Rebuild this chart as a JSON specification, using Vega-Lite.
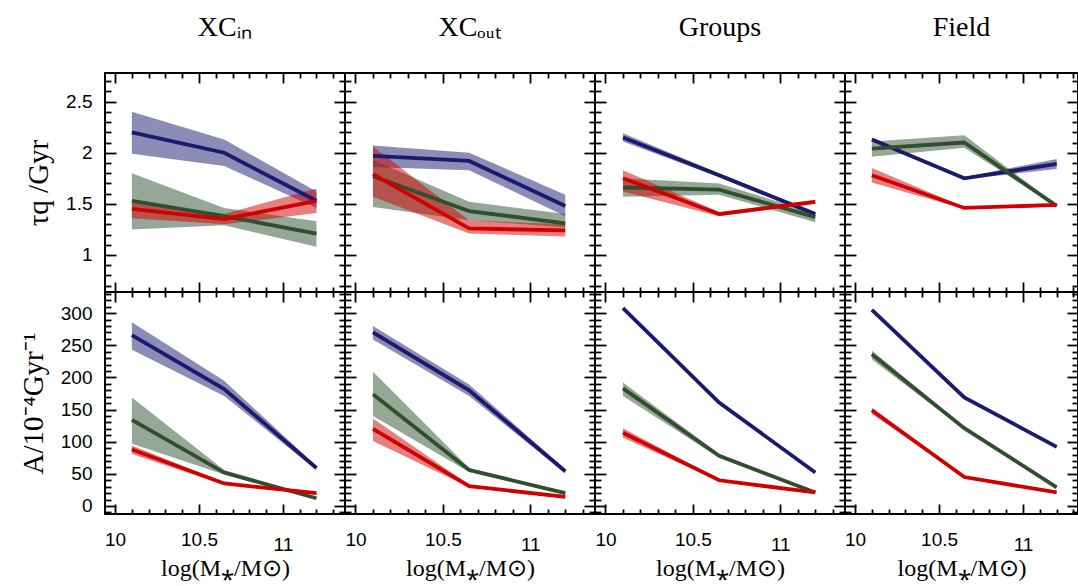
{
  "$schema": "https://vega.github.io/schema/vega-lite/v6.json",
  "background": "white",
  "padding": {"left": 18, "top": 13, "right": 0, "bottom": 0},
  "config": {
    "view": {"stroke": "black", "strokeWidth": 2},
    "title": {"font": "Liberation Serif", "fontSize": 28, "fontWeight": "normal", "color": "black", "offset": 30},
    "axis": {"domain": false, "grid": false, "tickColor": "black", "tickWidth": 1.8, "labelFont": "Liberation Sans", "labelFontSize": 19, "labelColor": "black", "labelFlush": false, "labelOverlap": false, "labelBound": false, "titleFont": "Liberation Serif", "titleFontWeight": "normal", "titleColor": "black"},
    "axisX": {"tickSize": -10, "labelPadding": 26, "titleFontSize": 24, "titlePadding": 2},
    "axisY": {"tickSize": -11, "labelPadding": 24, "titleFontSize": 29, "titlePadding": 12}
  },
  "data": {"values": [
    {"env":"XCin","m":"tau","s":"blue","x":10.1,"y":2.20,"lo":1.99,"hi":2.40},
    {"env":"XCin","m":"tau","s":"blue","x":10.65,"y":2.00,"lo":1.87,"hi":2.13},
    {"env":"XCin","m":"tau","s":"blue","x":11.2,"y":1.53,"lo":1.46,"hi":1.62},
    {"env":"XCin","m":"tau","s":"green","x":10.1,"y":1.53,"lo":1.25,"hi":1.80},
    {"env":"XCin","m":"tau","s":"green","x":10.65,"y":1.38,"lo":1.29,"hi":1.46},
    {"env":"XCin","m":"tau","s":"green","x":11.2,"y":1.21,"lo":1.08,"hi":1.33},
    {"env":"XCin","m":"tau","s":"red","x":10.1,"y":1.45,"lo":1.36,"hi":1.51},
    {"env":"XCin","m":"tau","s":"red","x":10.65,"y":1.35,"lo":1.30,"hi":1.40},
    {"env":"XCin","m":"tau","s":"red","x":11.2,"y":1.53,"lo":1.41,"hi":1.65},
    {"env":"XCout","m":"tau","s":"blue","x":10.1,"y":1.97,"lo":1.86,"hi":2.07},
    {"env":"XCout","m":"tau","s":"blue","x":10.65,"y":1.92,"lo":1.83,"hi":2.00},
    {"env":"XCout","m":"tau","s":"blue","x":11.2,"y":1.48,"lo":1.38,"hi":1.59},
    {"env":"XCout","m":"tau","s":"green","x":10.1,"y":1.77,"lo":1.47,"hi":1.93},
    {"env":"XCout","m":"tau","s":"green","x":10.65,"y":1.43,"lo":1.34,"hi":1.52},
    {"env":"XCout","m":"tau","s":"green","x":11.2,"y":1.31,"lo":1.27,"hi":1.40},
    {"env":"XCout","m":"tau","s":"red","x":10.1,"y":1.79,"lo":1.57,"hi":2.06},
    {"env":"XCout","m":"tau","s":"red","x":10.65,"y":1.26,"lo":1.21,"hi":1.34},
    {"env":"XCout","m":"tau","s":"red","x":11.2,"y":1.24,"lo":1.18,"hi":1.30},
    {"env":"Groups","m":"tau","s":"blue","x":10.1,"y":2.15,"lo":2.11,"hi":2.19},
    {"env":"Groups","m":"tau","s":"blue","x":10.65,"y":1.78,"lo":1.76,"hi":1.80},
    {"env":"Groups","m":"tau","s":"blue","x":11.2,"y":1.40,"lo":1.38,"hi":1.42},
    {"env":"Groups","m":"tau","s":"green","x":10.1,"y":1.66,"lo":1.57,"hi":1.75},
    {"env":"Groups","m":"tau","s":"green","x":10.65,"y":1.64,"lo":1.59,"hi":1.70},
    {"env":"Groups","m":"tau","s":"green","x":11.2,"y":1.37,"lo":1.32,"hi":1.41},
    {"env":"Groups","m":"tau","s":"red","x":10.1,"y":1.75,"lo":1.62,"hi":1.83},
    {"env":"Groups","m":"tau","s":"red","x":10.65,"y":1.40,"lo":1.38,"hi":1.42},
    {"env":"Groups","m":"tau","s":"red","x":11.2,"y":1.52,"lo":1.50,"hi":1.54},
    {"env":"Field","m":"tau","s":"blue","x":10.1,"y":2.13,"lo":2.11,"hi":2.15},
    {"env":"Field","m":"tau","s":"blue","x":10.65,"y":1.75,"lo":1.74,"hi":1.76},
    {"env":"Field","m":"tau","s":"blue","x":11.2,"y":1.89,"lo":1.84,"hi":1.94},
    {"env":"Field","m":"tau","s":"green","x":10.1,"y":2.04,"lo":1.96,"hi":2.11},
    {"env":"Field","m":"tau","s":"green","x":10.65,"y":2.10,"lo":2.05,"hi":2.17},
    {"env":"Field","m":"tau","s":"green","x":11.2,"y":1.48,"lo":1.47,"hi":1.49},
    {"env":"Field","m":"tau","s":"red","x":10.1,"y":1.78,"lo":1.71,"hi":1.85},
    {"env":"Field","m":"tau","s":"red","x":10.65,"y":1.46,"lo":1.45,"hi":1.47},
    {"env":"Field","m":"tau","s":"red","x":11.2,"y":1.49,"lo":1.48,"hi":1.50},
    {"env":"XCin","m":"A","s":"blue","x":10.1,"y":266,"lo":243,"hi":286},
    {"env":"XCin","m":"A","s":"blue","x":10.65,"y":182,"lo":171,"hi":195},
    {"env":"XCin","m":"A","s":"blue","x":11.2,"y":59,"lo":56,"hi":62},
    {"env":"XCin","m":"A","s":"green","x":10.1,"y":134,"lo":97,"hi":169},
    {"env":"XCin","m":"A","s":"green","x":10.65,"y":52,"lo":49,"hi":56},
    {"env":"XCin","m":"A","s":"green","x":11.2,"y":12,"lo":10,"hi":14},
    {"env":"XCin","m":"A","s":"red","x":10.1,"y":88,"lo":81,"hi":94},
    {"env":"XCin","m":"A","s":"red","x":10.65,"y":35,"lo":33,"hi":37},
    {"env":"XCin","m":"A","s":"red","x":11.2,"y":20,"lo":18,"hi":22},
    {"env":"XCout","m":"A","s":"blue","x":10.1,"y":270,"lo":259,"hi":280},
    {"env":"XCout","m":"A","s":"blue","x":10.65,"y":180,"lo":171,"hi":189},
    {"env":"XCout","m":"A","s":"blue","x":11.2,"y":54,"lo":51,"hi":57},
    {"env":"XCout","m":"A","s":"green","x":10.1,"y":174,"lo":140,"hi":209},
    {"env":"XCout","m":"A","s":"green","x":10.65,"y":56,"lo":53,"hi":59},
    {"env":"XCout","m":"A","s":"green","x":11.2,"y":20,"lo":18,"hi":22},
    {"env":"XCout","m":"A","s":"red","x":10.1,"y":120,"lo":101,"hi":136},
    {"env":"XCout","m":"A","s":"red","x":10.65,"y":31,"lo":29,"hi":33},
    {"env":"XCout","m":"A","s":"red","x":11.2,"y":14,"lo":12,"hi":16},
    {"env":"Groups","m":"A","s":"blue","x":10.1,"y":308,"lo":307,"hi":309},
    {"env":"Groups","m":"A","s":"blue","x":10.65,"y":161,"lo":160,"hi":162},
    {"env":"Groups","m":"A","s":"blue","x":11.2,"y":52,"lo":51,"hi":53},
    {"env":"Groups","m":"A","s":"green","x":10.1,"y":183,"lo":171,"hi":192},
    {"env":"Groups","m":"A","s":"green","x":10.65,"y":78,"lo":75,"hi":81},
    {"env":"Groups","m":"A","s":"green","x":11.2,"y":21,"lo":20,"hi":22},
    {"env":"Groups","m":"A","s":"red","x":10.1,"y":114,"lo":106,"hi":121},
    {"env":"Groups","m":"A","s":"red","x":10.65,"y":40,"lo":39,"hi":41},
    {"env":"Groups","m":"A","s":"red","x":11.2,"y":21,"lo":20,"hi":22},
    {"env":"Field","m":"A","s":"blue","x":10.1,"y":305,"lo":304,"hi":306},
    {"env":"Field","m":"A","s":"blue","x":10.65,"y":169,"lo":168,"hi":170},
    {"env":"Field","m":"A","s":"blue","x":11.2,"y":92,"lo":91,"hi":93},
    {"env":"Field","m":"A","s":"green","x":10.1,"y":236,"lo":228,"hi":242},
    {"env":"Field","m":"A","s":"green","x":10.65,"y":121,"lo":119,"hi":123},
    {"env":"Field","m":"A","s":"green","x":11.2,"y":29,"lo":28,"hi":30},
    {"env":"Field","m":"A","s":"red","x":10.1,"y":149,"lo":143,"hi":153},
    {"env":"Field","m":"A","s":"red","x":10.65,"y":45,"lo":44,"hi":46},
    {"env":"Field","m":"A","s":"red","x":11.2,"y":21,"lo":20,"hi":22}
  ]},
  "columns": 4,
  "spacing": 0,
  "bounds": "flush",
  "concat": [
    {"width": 240, "height": 219, "title": "XCᵢₙ",
     "transform": [{"filter": "datum.env == 'XCin' && datum.m == 'tau'"}],
     "layer": [
      {"mark": {"type": "area", "opacity": 0.5},
       "encoding": {
        "x": {"field": "x", "type": "quantitative", "scale": {"domain": [9.94, 11.37], "nice": false, "zero": false}, "axis": {"orient": "bottom", "values": [10, 10.5, 11], "labels": false, "title": null}},
        "y": {"field": "lo", "type": "quantitative", "stack": null, "scale": {"domain": [0.638, 2.78], "nice": false, "zero": false}, "axis": {"orient": "left", "values": [1, 1.5, 2, 2.5], "format": "~g", "title": "τq /Gyr"}},
        "y2": {"field": "hi"},
        "color": {"field": "s", "type": "nominal", "scale": {"domain": ["blue", "green", "red"], "range": ["#1a1a6e", "#2f4f2f", "#d00000"]}, "legend": null}}},
      {"mark": {"type": "line", "strokeWidth": 3.8},
       "encoding": {
        "x": {"field": "x", "type": "quantitative", "axis": {"orient": "top", "values": [10, 10.5, 11], "labels": false, "title": null}},
        "y": {"field": "y", "type": "quantitative", "axis": {"orient": "right", "values": [1, 1.5, 2, 2.5], "labels": false, "title": null}},
        "color": {"field": "s", "type": "nominal", "legend": null}}},
      {"mark": {"type": "line", "opacity": 0},
       "encoding": {
        "x": {"field": "x", "type": "quantitative", "axis": {"orient": "bottom", "values": [10.1,10.2,10.3,10.4,10.6,10.7,10.8,10.9,11.1,11.2,11.3], "tickSize": -5, "labels": false, "title": null}},
        "y": {"field": "y", "type": "quantitative", "axis": {"orient": "left", "values": [0.7,0.8,0.9,1.1,1.2,1.3,1.4,1.6,1.7,1.8,1.9,2.1,2.2,2.3,2.4,2.6,2.7], "tickSize": -6, "labels": false, "title": null}},
        "detail": {"field": "s"}}},
      {"mark": {"type": "line", "opacity": 0},
       "encoding": {
        "x": {"field": "x", "type": "quantitative", "axis": {"orient": "top", "values": [10.1,10.2,10.3,10.4,10.6,10.7,10.8,10.9,11.1,11.2,11.3], "tickSize": -5, "labels": false, "title": null}},
        "y": {"field": "y", "type": "quantitative", "axis": {"orient": "right", "values": [0.7,0.8,0.9,1.1,1.2,1.3,1.4,1.6,1.7,1.8,1.9,2.1,2.2,2.3,2.4,2.6,2.7], "tickSize": -6, "labels": false, "title": null}},
        "detail": {"field": "s"}}}
     ],
     "resolve": {"axis": {"x": "independent", "y": "independent"}}},
    {"width": 250, "height": 219, "title": "XCₒᵤₜ",
     "transform": [{"filter": "datum.env == 'XCout' && datum.m == 'tau'"}],
     "layer": [
      {"mark": {"type": "area", "opacity": 0.5},
       "encoding": {
        "x": {"field": "x", "type": "quantitative", "scale": {"domain": [9.94, 11.37], "nice": false, "zero": false}, "axis": {"orient": "bottom", "values": [10, 10.5, 11], "labels": false, "title": null}},
        "y": {"field": "lo", "type": "quantitative", "stack": null, "scale": {"domain": [0.638, 2.78], "nice": false, "zero": false}, "axis": {"orient": "left", "values": [1, 1.5, 2, 2.5], "labels": false, "title": null}},
        "y2": {"field": "hi"},
        "color": {"field": "s", "type": "nominal", "scale": {"domain": ["blue", "green", "red"], "range": ["#1a1a6e", "#2f4f2f", "#d00000"]}, "legend": null}}},
      {"mark": {"type": "line", "strokeWidth": 3.8},
       "encoding": {
        "x": {"field": "x", "type": "quantitative", "axis": {"orient": "top", "values": [10, 10.5, 11], "labels": false, "title": null}},
        "y": {"field": "y", "type": "quantitative", "axis": {"orient": "right", "values": [1, 1.5, 2, 2.5], "labels": false, "title": null}},
        "color": {"field": "s", "type": "nominal", "legend": null}}},
      {"mark": {"type": "line", "opacity": 0},
       "encoding": {
        "x": {"field": "x", "type": "quantitative", "axis": {"orient": "bottom", "values": [10.1,10.2,10.3,10.4,10.6,10.7,10.8,10.9,11.1,11.2,11.3], "tickSize": -5, "labels": false, "title": null}},
        "y": {"field": "y", "type": "quantitative", "axis": {"orient": "left", "values": [0.7,0.8,0.9,1.1,1.2,1.3,1.4,1.6,1.7,1.8,1.9,2.1,2.2,2.3,2.4,2.6,2.7], "tickSize": -6, "labels": false, "title": null}},
        "detail": {"field": "s"}}},
      {"mark": {"type": "line", "opacity": 0},
       "encoding": {
        "x": {"field": "x", "type": "quantitative", "axis": {"orient": "top", "values": [10.1,10.2,10.3,10.4,10.6,10.7,10.8,10.9,11.1,11.2,11.3], "tickSize": -5, "labels": false, "title": null}},
        "y": {"field": "y", "type": "quantitative", "axis": {"orient": "right", "values": [0.7,0.8,0.9,1.1,1.2,1.3,1.4,1.6,1.7,1.8,1.9,2.1,2.2,2.3,2.4,2.6,2.7], "tickSize": -6, "labels": false, "title": null}},
        "detail": {"field": "s"}}}
     ],
     "resolve": {"axis": {"x": "independent", "y": "independent"}}},
    {"width": 250, "height": 219, "title": "Groups",
     "transform": [{"filter": "datum.env == 'Groups' && datum.m == 'tau'"}],
     "layer": [
      {"mark": {"type": "area", "opacity": 0.5},
       "encoding": {
        "x": {"field": "x", "type": "quantitative", "scale": {"domain": [9.94, 11.37], "nice": false, "zero": false}, "axis": {"orient": "bottom", "values": [10, 10.5, 11], "labels": false, "title": null}},
        "y": {"field": "lo", "type": "quantitative", "stack": null, "scale": {"domain": [0.638, 2.78], "nice": false, "zero": false}, "axis": {"orient": "left", "values": [1, 1.5, 2, 2.5], "labels": false, "title": null}},
        "y2": {"field": "hi"},
        "color": {"field": "s", "type": "nominal", "scale": {"domain": ["blue", "green", "red"], "range": ["#1a1a6e", "#2f4f2f", "#d00000"]}, "legend": null}}},
      {"mark": {"type": "line", "strokeWidth": 3.8},
       "encoding": {
        "x": {"field": "x", "type": "quantitative", "axis": {"orient": "top", "values": [10, 10.5, 11], "labels": false, "title": null}},
        "y": {"field": "y", "type": "quantitative", "axis": {"orient": "right", "values": [1, 1.5, 2, 2.5], "labels": false, "title": null}},
        "color": {"field": "s", "type": "nominal", "legend": null}}},
      {"mark": {"type": "line", "opacity": 0},
       "encoding": {
        "x": {"field": "x", "type": "quantitative", "axis": {"orient": "bottom", "values": [10.1,10.2,10.3,10.4,10.6,10.7,10.8,10.9,11.1,11.2,11.3], "tickSize": -5, "labels": false, "title": null}},
        "y": {"field": "y", "type": "quantitative", "axis": {"orient": "left", "values": [0.7,0.8,0.9,1.1,1.2,1.3,1.4,1.6,1.7,1.8,1.9,2.1,2.2,2.3,2.4,2.6,2.7], "tickSize": -6, "labels": false, "title": null}},
        "detail": {"field": "s"}}},
      {"mark": {"type": "line", "opacity": 0},
       "encoding": {
        "x": {"field": "x", "type": "quantitative", "axis": {"orient": "top", "values": [10.1,10.2,10.3,10.4,10.6,10.7,10.8,10.9,11.1,11.2,11.3], "tickSize": -5, "labels": false, "title": null}},
        "y": {"field": "y", "type": "quantitative", "axis": {"orient": "right", "values": [0.7,0.8,0.9,1.1,1.2,1.3,1.4,1.6,1.7,1.8,1.9,2.1,2.2,2.3,2.4,2.6,2.7], "tickSize": -6, "labels": false, "title": null}},
        "detail": {"field": "s"}}}
     ],
     "resolve": {"axis": {"x": "independent", "y": "independent"}}},
    {"width": 233, "height": 219, "title": "Field",
     "transform": [{"filter": "datum.env == 'Field' && datum.m == 'tau'"}],
     "layer": [
      {"mark": {"type": "area", "opacity": 0.5},
       "encoding": {
        "x": {"field": "x", "type": "quantitative", "scale": {"domain": [9.94, 11.327], "nice": false, "zero": false}, "axis": {"orient": "bottom", "values": [10, 10.5, 11], "labels": false, "title": null}},
        "y": {"field": "lo", "type": "quantitative", "stack": null, "scale": {"domain": [0.638, 2.78], "nice": false, "zero": false}, "axis": {"orient": "left", "values": [1, 1.5, 2, 2.5], "labels": false, "title": null}},
        "y2": {"field": "hi"},
        "color": {"field": "s", "type": "nominal", "scale": {"domain": ["blue", "green", "red"], "range": ["#1a1a6e", "#2f4f2f", "#d00000"]}, "legend": null}}},
      {"mark": {"type": "line", "strokeWidth": 3.8},
       "encoding": {
        "x": {"field": "x", "type": "quantitative", "axis": {"orient": "top", "values": [10, 10.5, 11], "labels": false, "title": null}},
        "y": {"field": "y", "type": "quantitative", "axis": {"orient": "right", "values": [1, 1.5, 2, 2.5], "labels": false, "title": null}},
        "color": {"field": "s", "type": "nominal", "legend": null}}},
      {"mark": {"type": "line", "opacity": 0},
       "encoding": {
        "x": {"field": "x", "type": "quantitative", "axis": {"orient": "bottom", "values": [10.1,10.2,10.3,10.4,10.6,10.7,10.8,10.9,11.1,11.2,11.3], "tickSize": -5, "labels": false, "title": null}},
        "y": {"field": "y", "type": "quantitative", "axis": {"orient": "left", "values": [0.7,0.8,0.9,1.1,1.2,1.3,1.4,1.6,1.7,1.8,1.9,2.1,2.2,2.3,2.4,2.6,2.7], "tickSize": -6, "labels": false, "title": null}},
        "detail": {"field": "s"}}},
      {"mark": {"type": "line", "opacity": 0},
       "encoding": {
        "x": {"field": "x", "type": "quantitative", "axis": {"orient": "top", "values": [10.1,10.2,10.3,10.4,10.6,10.7,10.8,10.9,11.1,11.2,11.3], "tickSize": -5, "labels": false, "title": null}},
        "y": {"field": "y", "type": "quantitative", "axis": {"orient": "right", "values": [0.7,0.8,0.9,1.1,1.2,1.3,1.4,1.6,1.7,1.8,1.9,2.1,2.2,2.3,2.4,2.6,2.7], "tickSize": -6, "labels": false, "title": null}},
        "detail": {"field": "s"}}}
     ],
     "resolve": {"axis": {"x": "independent", "y": "independent"}}},
    {"width": 240, "height": 222,
     "transform": [{"filter": "datum.env == 'XCin' && datum.m == 'A'"}],
     "layer": [
      {"mark": {"type": "area", "opacity": 0.5},
       "encoding": {
        "x": {"field": "x", "type": "quantitative", "scale": {"domain": [9.94, 11.37], "nice": false, "zero": false}, "axis": {"orient": "bottom", "values": [10, 10.5, 11], "format": "~g", "labelPadding": {"condition": {"test": "datum.value == 11", "value": 31}, "value": 26}, "title": "log(M⁎/M⊙)"}},
        "y": {"field": "lo", "type": "quantitative", "stack": null, "scale": {"domain": [-12.5, 333], "nice": false, "zero": false}, "axis": {"orient": "left", "values": [0, 50, 100, 150, 200, 250, 300], "format": "d", "title": "A/10⁻⁴Gyr⁻¹"}},
        "y2": {"field": "hi"},
        "color": {"field": "s", "type": "nominal", "scale": {"domain": ["blue", "green", "red"], "range": ["#1a1a6e", "#2f4f2f", "#d00000"]}, "legend": null}}},
      {"mark": {"type": "line", "strokeWidth": 3.8},
       "encoding": {
        "x": {"field": "x", "type": "quantitative", "axis": {"orient": "top", "values": [10, 10.5, 11], "labels": false, "title": null}},
        "y": {"field": "y", "type": "quantitative", "axis": {"orient": "right", "values": [0, 50, 100, 150, 200, 250, 300], "labels": false, "title": null}},
        "color": {"field": "s", "type": "nominal", "legend": null}}},
      {"mark": {"type": "line", "opacity": 0},
       "encoding": {
        "x": {"field": "x", "type": "quantitative", "axis": {"orient": "bottom", "values": [10.1,10.2,10.3,10.4,10.6,10.7,10.8,10.9,11.1,11.2,11.3], "tickSize": -5, "labels": false, "title": null}},
        "y": {"field": "y", "type": "quantitative", "axis": {"orient": "left", "values": [-10,10,20,30,40,60,70,80,90,110,120,130,140,160,170,180,190,210,220,230,240,260,270,280,290,310,320,330], "tickSize": -6, "labels": false, "title": null}},
        "detail": {"field": "s"}}},
      {"mark": {"type": "line", "opacity": 0},
       "encoding": {
        "x": {"field": "x", "type": "quantitative", "axis": {"orient": "top", "values": [10.1,10.2,10.3,10.4,10.6,10.7,10.8,10.9,11.1,11.2,11.3], "tickSize": -5, "labels": false, "title": null}},
        "y": {"field": "y", "type": "quantitative", "axis": {"orient": "right", "values": [-10,10,20,30,40,60,70,80,90,110,120,130,140,160,170,180,190,210,220,230,240,260,270,280,290,310,320,330], "tickSize": -6, "labels": false, "title": null}},
        "detail": {"field": "s"}}}
     ],
     "resolve": {"axis": {"x": "independent", "y": "independent"}}},
    {"width": 250, "height": 222,
     "transform": [{"filter": "datum.env == 'XCout' && datum.m == 'A'"}],
     "layer": [
      {"mark": {"type": "area", "opacity": 0.5},
       "encoding": {
        "x": {"field": "x", "type": "quantitative", "scale": {"domain": [9.94, 11.37], "nice": false, "zero": false}, "axis": {"orient": "bottom", "values": [10, 10.5, 11], "format": "~g", "labelPadding": {"condition": {"test": "datum.value == 11", "value": 31}, "value": 26}, "title": "log(M⁎/M⊙)"}},
        "y": {"field": "lo", "type": "quantitative", "stack": null, "scale": {"domain": [-12.5, 333], "nice": false, "zero": false}, "axis": {"orient": "left", "values": [0, 50, 100, 150, 200, 250, 300], "labels": false, "title": null}},
        "y2": {"field": "hi"},
        "color": {"field": "s", "type": "nominal", "scale": {"domain": ["blue", "green", "red"], "range": ["#1a1a6e", "#2f4f2f", "#d00000"]}, "legend": null}}},
      {"mark": {"type": "line", "strokeWidth": 3.8},
       "encoding": {
        "x": {"field": "x", "type": "quantitative", "axis": {"orient": "top", "values": [10, 10.5, 11], "labels": false, "title": null}},
        "y": {"field": "y", "type": "quantitative", "axis": {"orient": "right", "values": [0, 50, 100, 150, 200, 250, 300], "labels": false, "title": null}},
        "color": {"field": "s", "type": "nominal", "legend": null}}},
      {"mark": {"type": "line", "opacity": 0},
       "encoding": {
        "x": {"field": "x", "type": "quantitative", "axis": {"orient": "bottom", "values": [10.1,10.2,10.3,10.4,10.6,10.7,10.8,10.9,11.1,11.2,11.3], "tickSize": -5, "labels": false, "title": null}},
        "y": {"field": "y", "type": "quantitative", "axis": {"orient": "left", "values": [-10,10,20,30,40,60,70,80,90,110,120,130,140,160,170,180,190,210,220,230,240,260,270,280,290,310,320,330], "tickSize": -6, "labels": false, "title": null}},
        "detail": {"field": "s"}}},
      {"mark": {"type": "line", "opacity": 0},
       "encoding": {
        "x": {"field": "x", "type": "quantitative", "axis": {"orient": "top", "values": [10.1,10.2,10.3,10.4,10.6,10.7,10.8,10.9,11.1,11.2,11.3], "tickSize": -5, "labels": false, "title": null}},
        "y": {"field": "y", "type": "quantitative", "axis": {"orient": "right", "values": [-10,10,20,30,40,60,70,80,90,110,120,130,140,160,170,180,190,210,220,230,240,260,270,280,290,310,320,330], "tickSize": -6, "labels": false, "title": null}},
        "detail": {"field": "s"}}}
     ],
     "resolve": {"axis": {"x": "independent", "y": "independent"}}},
    {"width": 250, "height": 222,
     "transform": [{"filter": "datum.env == 'Groups' && datum.m == 'A'"}],
     "layer": [
      {"mark": {"type": "area", "opacity": 0.5},
       "encoding": {
        "x": {"field": "x", "type": "quantitative", "scale": {"domain": [9.94, 11.37], "nice": false, "zero": false}, "axis": {"orient": "bottom", "values": [10, 10.5, 11], "format": "~g", "labelPadding": {"condition": {"test": "datum.value == 11", "value": 31}, "value": 26}, "title": "log(M⁎/M⊙)"}},
        "y": {"field": "lo", "type": "quantitative", "stack": null, "scale": {"domain": [-12.5, 333], "nice": false, "zero": false}, "axis": {"orient": "left", "values": [0, 50, 100, 150, 200, 250, 300], "labels": false, "title": null}},
        "y2": {"field": "hi"},
        "color": {"field": "s", "type": "nominal", "scale": {"domain": ["blue", "green", "red"], "range": ["#1a1a6e", "#2f4f2f", "#d00000"]}, "legend": null}}},
      {"mark": {"type": "line", "strokeWidth": 3.8},
       "encoding": {
        "x": {"field": "x", "type": "quantitative", "axis": {"orient": "top", "values": [10, 10.5, 11], "labels": false, "title": null}},
        "y": {"field": "y", "type": "quantitative", "axis": {"orient": "right", "values": [0, 50, 100, 150, 200, 250, 300], "labels": false, "title": null}},
        "color": {"field": "s", "type": "nominal", "legend": null}}},
      {"mark": {"type": "line", "opacity": 0},
       "encoding": {
        "x": {"field": "x", "type": "quantitative", "axis": {"orient": "bottom", "values": [10.1,10.2,10.3,10.4,10.6,10.7,10.8,10.9,11.1,11.2,11.3], "tickSize": -5, "labels": false, "title": null}},
        "y": {"field": "y", "type": "quantitative", "axis": {"orient": "left", "values": [-10,10,20,30,40,60,70,80,90,110,120,130,140,160,170,180,190,210,220,230,240,260,270,280,290,310,320,330], "tickSize": -6, "labels": false, "title": null}},
        "detail": {"field": "s"}}},
      {"mark": {"type": "line", "opacity": 0},
       "encoding": {
        "x": {"field": "x", "type": "quantitative", "axis": {"orient": "top", "values": [10.1,10.2,10.3,10.4,10.6,10.7,10.8,10.9,11.1,11.2,11.3], "tickSize": -5, "labels": false, "title": null}},
        "y": {"field": "y", "type": "quantitative", "axis": {"orient": "right", "values": [-10,10,20,30,40,60,70,80,90,110,120,130,140,160,170,180,190,210,220,230,240,260,270,280,290,310,320,330], "tickSize": -6, "labels": false, "title": null}},
        "detail": {"field": "s"}}}
     ],
     "resolve": {"axis": {"x": "independent", "y": "independent"}}},
    {"width": 233, "height": 222,
     "transform": [{"filter": "datum.env == 'Field' && datum.m == 'A'"}],
     "layer": [
      {"mark": {"type": "area", "opacity": 0.5},
       "encoding": {
        "x": {"field": "x", "type": "quantitative", "scale": {"domain": [9.94, 11.327], "nice": false, "zero": false}, "axis": {"orient": "bottom", "values": [10, 10.5, 11], "format": "~g", "labelPadding": {"condition": {"test": "datum.value == 11", "value": 31}, "value": 26}, "title": "log(M⁎/M⊙)"}},
        "y": {"field": "lo", "type": "quantitative", "stack": null, "scale": {"domain": [-12.5, 333], "nice": false, "zero": false}, "axis": {"orient": "left", "values": [0, 50, 100, 150, 200, 250, 300], "labels": false, "title": null}},
        "y2": {"field": "hi"},
        "color": {"field": "s", "type": "nominal", "scale": {"domain": ["blue", "green", "red"], "range": ["#1a1a6e", "#2f4f2f", "#d00000"]}, "legend": null}}},
      {"mark": {"type": "line", "strokeWidth": 3.8},
       "encoding": {
        "x": {"field": "x", "type": "quantitative", "axis": {"orient": "top", "values": [10, 10.5, 11], "labels": false, "title": null}},
        "y": {"field": "y", "type": "quantitative", "axis": {"orient": "right", "values": [0, 50, 100, 150, 200, 250, 300], "labels": false, "title": null}},
        "color": {"field": "s", "type": "nominal", "legend": null}}},
      {"mark": {"type": "line", "opacity": 0},
       "encoding": {
        "x": {"field": "x", "type": "quantitative", "axis": {"orient": "bottom", "values": [10.1,10.2,10.3,10.4,10.6,10.7,10.8,10.9,11.1,11.2,11.3], "tickSize": -5, "labels": false, "title": null}},
        "y": {"field": "y", "type": "quantitative", "axis": {"orient": "left", "values": [-10,10,20,30,40,60,70,80,90,110,120,130,140,160,170,180,190,210,220,230,240,260,270,280,290,310,320,330], "tickSize": -6, "labels": false, "title": null}},
        "detail": {"field": "s"}}},
      {"mark": {"type": "line", "opacity": 0},
       "encoding": {
        "x": {"field": "x", "type": "quantitative", "axis": {"orient": "top", "values": [10.1,10.2,10.3,10.4,10.6,10.7,10.8,10.9,11.1,11.2,11.3], "tickSize": -5, "labels": false, "title": null}},
        "y": {"field": "y", "type": "quantitative", "axis": {"orient": "right", "values": [-10,10,20,30,40,60,70,80,90,110,120,130,140,160,170,180,190,210,220,230,240,260,270,280,290,310,320,330], "tickSize": -6, "labels": false, "title": null}},
        "detail": {"field": "s"}}}
     ],
     "resolve": {"axis": {"x": "independent", "y": "independent"}}}
  ]
}
